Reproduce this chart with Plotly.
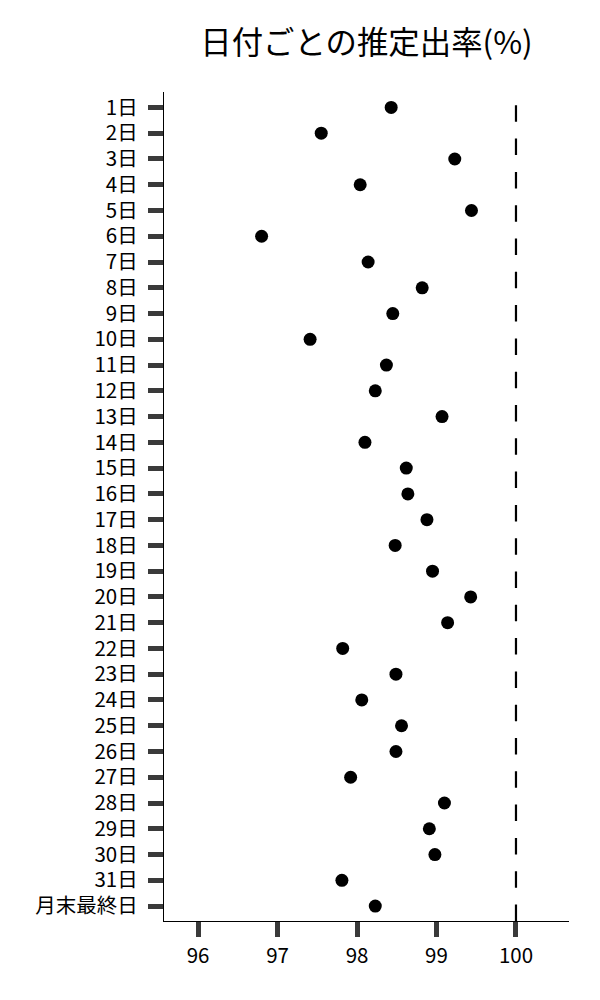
import plotly.graph_objects as go

# 日付ラベルと推定出率(%)
days = [f"{d}日" for d in range(1, 32)] + ["月末最終日"]
rates = [98.43, 97.55, 99.23, 98.04, 99.44, 96.80, 98.14, 98.82, 98.45, 97.41,
         98.37, 98.23, 99.07, 98.10, 98.62, 98.64, 98.88, 98.48, 98.95, 99.43,
         99.14, 97.82, 98.49, 98.06, 98.56, 98.49, 97.92, 99.10, 98.91, 98.98,
         97.81, 98.23]
x_ticks = [96, 97, 98, 99, 100]
ref_value = 100

FONT = "Noto Sans CJK JP"
TICK_COLOR = "#3a3a3a"

fig = go.Figure()
fig.add_trace(go.Scatter(
    x=rates,
    y=days,
    mode="markers",
    marker=dict(size=13, color="black", line=dict(width=0)),
    showlegend=False,
))

# 100% の基準線 (下端から破線を開始)
fig.add_shape(
    type="line",
    xref="x", yref="paper",
    x0=ref_value, x1=ref_value, y0=0, y1=1,
    line=dict(color="black", width=2.2, dash="16.5px,16.8px"),
    layer="below",
)

fig.update_layout(
    width=600,
    height=1000,
    paper_bgcolor="white",
    plot_bgcolor="white",
    font=dict(family=FONT, color="black", size=20),
    margin=dict(l=164.3, r=30.7, t=92.3, b=79.3),
    title=dict(
        text="日付ごとの推定出率(%)",
        font=dict(family=FONT, size=31.4, color="black"),
        x=0.5, xref="paper", xanchor="center",
        y=0.957, yref="container", yanchor="middle",
    ),
)

fig.update_xaxes(
    range=[95.572, 100.667],
    tickvals=x_ticks,
    ticktext=[str(v) for v in x_ticks],
    showgrid=False,
    zeroline=False,
    showline=True,
    linecolor="black",
    linewidth=1.3,
    ticks="outside",
    ticklen=15,
    tickwidth=5,
    tickcolor=TICK_COLOR,
    tickfont=dict(family=FONT, size=20.5, color="black"),
    ticklabelstandoff=1,
)

fig.update_yaxes(
    type="category",
    categoryorder="array",
    categoryarray=days,
    range=[31.58, -0.6],
    showgrid=False,
    zeroline=False,
    showline=True,
    linecolor="black",
    linewidth=1.3,
    ticks="outside",
    ticklen=15,
    tickwidth=5,
    tickcolor=TICK_COLOR,
    tickfont=dict(family=FONT, size=20.5, color="black"),
    ticklabelstandoff=6,
)

# ページ既定の余白を外して図を左上に合わせる
fig.write_html(
    "out.html",
    config={"displayModeBar": False},
    post_script="document.body.style.margin='0';",
)
